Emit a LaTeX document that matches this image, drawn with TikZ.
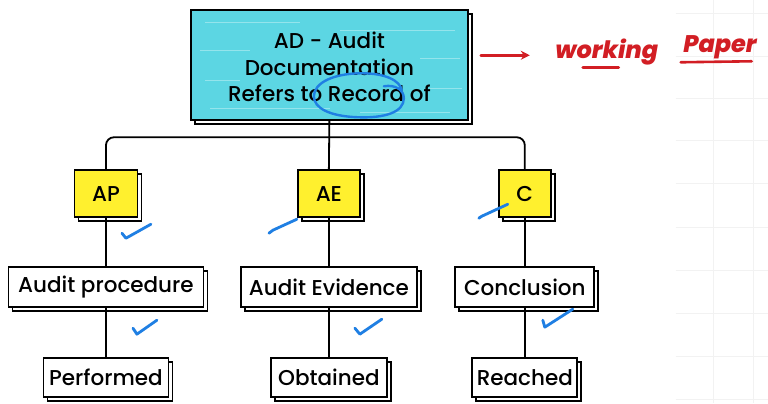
\documentclass[tikz,border=0pt]{standalone}
\usepackage{fontspec}
\setmainfont{Poppins}[UprightFont={* Medium}]
\usetikzlibrary{shadows,arrows.meta}
\definecolor{cyanfill}{HTML}{5CD6E3}
\definecolor{yel}{HTML}{FFF02E}
\definecolor{tickblue}{HTML}{1F7FE3}
\definecolor{pen}{HTML}{D21E24}
\begin{document}
\begin{tikzpicture}[x=1pt,y=-1pt,
  box/.style={draw=black, line width=1.8pt, inner sep=0pt, align=center,
    font=\fontsize{21.5}{27}\selectfont,
    general shadow={shadow xshift=4pt, shadow yshift=-4pt, fill=white, draw=black, line width=1.8pt}},
  wbox/.style={box, fill=white, minimum height=40pt},
  ybox/.style={box, fill=yel, minimum height=47pt},
  conn/.style={draw=black, line width=1.8pt},
  tick/.style={draw=tickblue, line width=2.8pt, line cap=round, line join=round},
  redpen/.style={draw=pen, line width=2.6pt, line cap=round},
  hand/.style={text=pen, font=\fontsize{24}{26}\bfseries\itshape}]
\fill[white] (0,0) rectangle (768,403);
% faint grid on the right
\foreach \gx in {714,754} \draw[black!5, line width=0.6pt] (\gx,0) -- (\gx,403);
\foreach \gy in {13,56,98,140,183,227,270,313,356,399} \draw[black!5, line width=0.6pt] (676,\gy) -- (768,\gy);

% top box
\node[box, fill=cyanfill, minimum width=277pt, minimum height=110pt] (top) at (329.5,65) {};
\foreach \sy/\sx/\ex in {22/205/300, 30/340/455, 50/200/250, 58/420/460, 80/205/240, 88/430/462, 108/210/330, 112/360/450}
  \draw[white, opacity=0.35, line width=0.8pt] (\sx,\sy) -- (\ex,\sy);
\node[font=\fontsize{21.5}{26.5}\selectfont, align=center] (toptext) at (329.5,67) {AD - Audit\\Documentation\\Refers to Record of};

% yellow boxes
\node[ybox, minimum width=63pt] (ap) at (106,193.5) {AP};
\node[ybox, minimum width=62pt] (ae) at (329,193.5) {AE};
\node[ybox, minimum width=52pt] (c) at (525,193.5) {C};

% middle boxes
\node[wbox, minimum width=195pt] (proc) at (106,287) {Audit procedure};
\node[wbox, minimum width=176pt] (evid) at (329,287) {Audit Evidence};
\node[wbox, minimum width=139pt] (concl) at (525,287) {Conclusion};

% bottom boxes
\node[wbox, minimum width=125pt, minimum height=39pt] (perf) at (106,377.5) {Performed};
\node[wbox, minimum width=116pt, minimum height=39pt] (obt) at (329,377.5) {Obtained};
\node[wbox, minimum width=105pt, minimum height=39pt] (reach) at (525,377.5) {Reached};

% connectors
\coordinate (bus) at (329,137);
\draw[conn] (top.south) -- (ae.north);
\draw[conn, rounded corners=8pt] (ap.north) |- (bus) -| (c.north);
\draw[conn] (ap.south) -- (proc.north);
\draw[conn] (ae.south) -- (evid.north);
\draw[conn] (c.south) -- (concl.north);
\draw[conn] (proc.south) -- (perf.north);
\draw[conn] (evid.south) -- (obt.north);
\draw[conn] (concl.south) -- (reach.north);

% blue annotation loop around "Record"
\draw[tickblue, line width=2.4pt, line cap=round]
  (384,86) .. controls (396,84) and (404,90) .. (404,98)
  .. controls (404,112) and (385,118) .. (358,117)
  .. controls (330,116) and (314,108) .. (314,96)
  .. controls (314,82) and (335,73) .. (362,73)
  .. controls (385,73) and (400,80) .. (402,90);

% ticks
\draw[tick] (122,233) -- (126,238) -- (151,224);
\draw[tick] (269,233) -- (273,230) -- (297,219);
\draw[tick] (479,218) -- (482,216) -- (508,204);
\draw[tick] (133,328) -- (137,334) -- (157,320);
\draw[tick] (355,328) -- (360,334) -- (382,319);
\draw[tick] (543,320) -- (545,327) -- (573,309);

% red annotation
\coordinate (arrS) at (481,55);
\coordinate (arrE) at (530,55);
\draw[redpen, -{Stealth[length=9pt,width=9pt]}] (arrS) -- (arrE);
\node[hand, anchor=base west] (work) at (552,58) {working};
\node[hand, anchor=base west] (paper) at (680,52) {Paper};
\draw[redpen] (583,67) -- (619,67);
\draw[redpen] (681,62) -- (752,61);
\end{tikzpicture}
\end{document}
